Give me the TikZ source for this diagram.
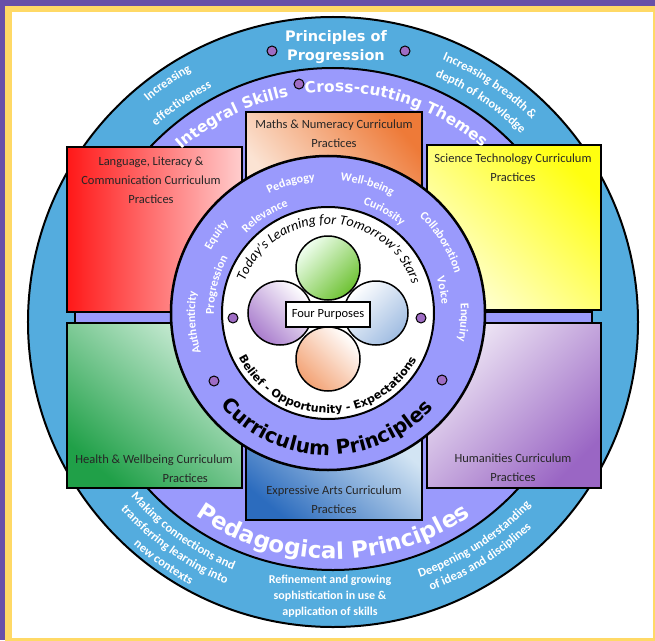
\documentclass[tikz,border=0pt]{standalone}
\usepackage{fontspec}
\setmainfont{Carlito}
\newfontfamily\titlefont{DejaVu Sans}
\usetikzlibrary{decorations.text,positioning}
\definecolor{frame}{HTML}{6850A8}
\definecolor{gold}{HTML}{FFD966}
\definecolor{ringblue}{HTML}{54ACDE}
\definecolor{lilac}{HTML}{9A9AFC}
\definecolor{dotc}{HTML}{9E6CC4}
\definecolor{langdark}{HTML}{FF1818}
\definecolor{langpale}{HTML}{FFCDCD}
\definecolor{healthdark}{HTML}{20A048}
\definecolor{healthpale}{HTML}{CFEEDA}
\definecolor{scidark}{HTML}{FFFF10}
\definecolor{scipale}{HTML}{FFFFD8}
\definecolor{humdark}{HTML}{9A66C4}
\definecolor{humpale}{HTML}{F0E9F6}
\definecolor{mathsdark}{HTML}{EE7A38}
\definecolor{mathspale}{HTML}{FBE3D3}
\definecolor{artsdark}{HTML}{2C6CBE}
\definecolor{artspale}{HTML}{D2E4F3}
\newcommand{\bluefont}{\color{white}\bfseries\fontsize{12.5}{13}\selectfont}
\newcommand{\headfont}{\color{white}\titlefont\bfseries\fontsize{15.5}{16}\selectfont}
\newcommand{\bigfont}{\color{white}\titlefont\bfseries\fontsize{23}{24}\selectfont}
\newcommand{\wordfont}{\color{white}\bfseries\fontsize{12}{12}\selectfont}
\newcommand{\currfont}{\color{black}\titlefont\bfseries\fontsize{20}{20}\selectfont}
\newcommand{\starfont}{\color{black}\itshape\fontsize{14}{14}\selectfont}
\newcommand{\belieffont}{\color{black}\titlefont\bfseries\fontsize{11.2}{12}\selectfont}
% text on an arc: centre, radius, middle angle, half span, font, text
\newcommand{\overarc}[6]{\path[shift={#1},decorate,decoration={text along path,text align=center,text={|#5|#6}}] ({#3+#4}:#2) arc[start angle={#3+#4},end angle={#3-#4},radius=#2];}
\newcommand{\underarc}[6]{\path[shift={#1},decorate,decoration={text along path,text align=center,text={|#5|#6}}] ({#3-#4}:#2) arc[start angle={#3-#4},end angle={#3+#4},radius=#2];}
\tikzset{
  practice/.style={draw=black,line width=2.5pt,inner sep=0pt},
  boxtext/.style={align=center,text=black!85,font=\fontsize{12.5}{19}\selectfont},
  bullet/.style={circle,draw=black,fill=dotc,line width=1pt,minimum size=10pt,inner sep=0pt},
  petal/.style={draw=black,line width=1.5pt}
}
\begin{document}
\begin{tikzpicture}[x=1pt,y=1pt]
\useasboundingbox (-328,-327) rectangle (327,313);
\fill[frame] (-328,-327) rectangle (327,313);
\fill[gold] (-323,-330) rectangle (330,307);
\fill[white] (-316,-325) rectangle (325,301);
\draw[line width=2pt,fill=ringblue] (5,-9) circle[radius=305];
\draw[line width=2pt,fill=lilac] (5,-6) circle[radius=251];
\draw[line width=1.5pt,fill=lilac] (-253,1) rectangle (264,-11);
\node[practice,minimum width=175,minimum height=165,left color=langdark,right color=langpale] (lang) at (-173.5,83.5) {};
\node[practice,minimum width=175,minimum height=165,top color=healthpale,bottom color=healthdark,shading angle=-40] (health) at (-173.5,-92.5) {};
\node[practice,minimum width=174,minimum height=165,top color=scidark,bottom color=scipale,shading angle=-45] (sci) at (186,85.5) {};
\node[practice,minimum width=174,minimum height=165,top color=humpale,bottom color=humdark,shading angle=45] (hum) at (186,-92.5) {};
\node[practice,minimum width=176,minimum height=81,top color=mathsdark,bottom color=mathspale,shading angle=-50] (maths) at (6,160.5) {};
\node[practice,minimum width=176,minimum height=87,top color=artspale,bottom color=artsdark,shading angle=-40] (arts) at (6,-163.5) {};
\node[boxtext] (langtxt) at (-177,133) {Language, Literacy \&\\Communication Curriculum\\Practices};
\node[boxtext] (healthtxt) at (-174,-155.5) {Health \& Wellbeing Curriculum\\\hspace*{5em}Practices};
\node[boxtext] (scitxt) at (185,145.5) {Science Technology Curriculum\\Practices};
\node[boxtext] (humtxt) at (185,-154.5) {Humanities Curriculum\\Practices};
\node[boxtext] (mathstxt) at (6,179) {Maths \& Numeracy Curriculum\\Practices};
\node[boxtext] (artstxt) at (6,-187) {Expressive Arts Curriculum\\Practices};
\draw[line width=2.5pt,fill=lilac] (0,0) circle[radius=157];
\draw[line width=2pt,fill=white] (0,0) circle[radius=106];
\draw[petal,top color=green!6,bottom color=green!45!lime!70!black!80,shading angle=45] (0,45) circle[radius=32];
\draw[petal,top color=white,bottom color=humdark!85,shading angle=-45] (-48,0) circle[radius=32];
\draw[petal,top color=white,bottom color=artsdark!45,shading angle=45] (48,0) circle[radius=32];
\draw[petal,top color=white,bottom color=mathsdark!70,shading angle=-45] (0,-46) circle[radius=32];
\node[draw=black,line width=2.5pt,fill=white,minimum width=84,minimum height=25,font=\fontsize{12.5}{13}\selectfont] (purposes) at (0,-1.5) {Four Purposes};
\node[text=white,align=center,font=\titlefont\bfseries\fontsize{14.5}{19}\selectfont] (progr) at (8,265.5) {Principles of\\Progression};
\node[text=white,align=center,font=\bfseries\fontsize{12}{16}\selectfont] (refine) at (2,-283) {Refinement and growing\\sophistication in use \&\\application of skills};
\overarc{(5,-9)}{288}{124.7}{25}{\bluefont}{Increasing}
\overarc{(5,-9)}{264}{124.7}{25}{\bluefont}{effectiveness}
\overarc{(5,-9)}{284}{56.4}{30}{\bluefont}{Increasing breadth {\&}}
\overarc{(5,-9)}{266}{56.2}{30}{\bluefont}{depth of knowledge}
\underarc{(5,-9)}{267}{234.4}{30}{\bluefont}{Making connections and}
\underarc{(5,-9)}{283}{234.6}{30}{\bluefont}{transferring learning into}
\underarc{(5,-9)}{299}{234.8}{30}{\bluefont}{new contexts}
\underarc{(5,-9)}{270}{303}{30}{\bluefont}{Deepening understanding}
\underarc{(5,-9)}{286}{302}{30}{\bluefont}{of ideas and disciplines}
\overarc{(5,-6)}{227}{116.5}{20}{\headfont}{Integral Skills}
\overarc{(5,-6)}{227}{73}{30}{\headfont}{Cross-cutting Themes}
\underarc{(5,-6)}{240}{270}{50}{\bigfont}{Pedagogical Principles}
\underarc{(0,0)}{142}{269.5}{70}{\currfont}{Curriculum Principles}
\overarc{(0,0)}{133}{184}{30}{\wordfont}{Authenticity}
\overarc{(0,0)}{133}{145}{30}{\wordfont}{Equity}
\overarc{(0,0)}{133}{106}{30}{\wordfont}{Pedagogy}
\overarc{(0,0)}{133}{73}{30}{\wordfont}{Well-being}
\overarc{(0,0)}{133}{32}{30}{\wordfont}{Collaboration}
\overarc{(0,0)}{133}{-4}{30}{\wordfont}{Enquiry}
\overarc{(0,0)}{114}{166}{30}{\wordfont}{Progression}
\overarc{(0,0)}{114}{123}{30}{\wordfont}{Relevance}
\overarc{(0,0)}{114}{61}{30}{\wordfont}{Curiosity}
\overarc{(0,0)}{114}{11}{30}{\wordfont}{Voice}
\overarc{(0,0)}{89}{89}{85}{\starfont}{Today’s Learning for Tomorrow’s Stars}
\underarc{(0,0)}{100}{269.5}{80}{\belieffont}{Belief - Opportunity - Expectations}
\node[bullet] (pp1) at (-56,262) {};
\node[bullet] (pp2) at (77,262) {};
\node[bullet] (is1) at (-29,229) {};
\node[bullet] (cp1) at (-114,-68) {};
\node[bullet] (cp2) at (114,-67) {};
\node[bullet] (ts1) at (-95,-5) {};
\node[bullet] (ts2) at (93,-5) {};
\end{tikzpicture}
\end{document}
